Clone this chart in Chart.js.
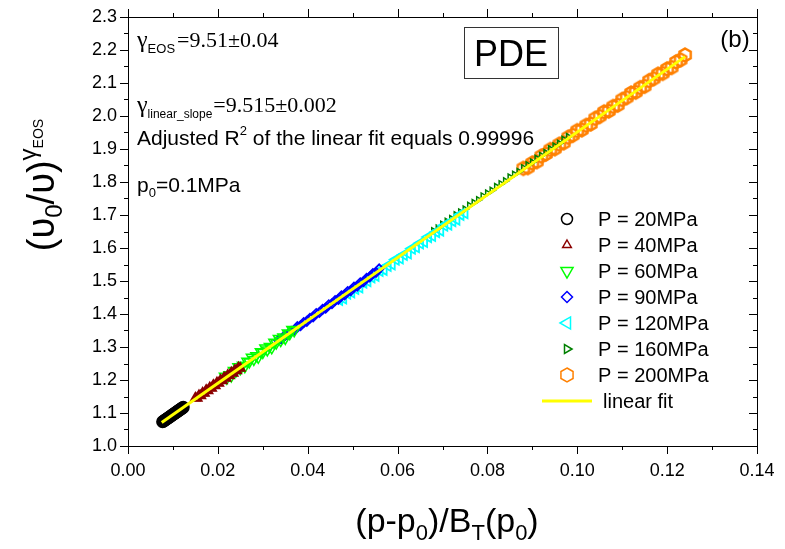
<!DOCTYPE html>
<html>
<head>
<meta charset="utf-8">
<script src="https://cdn.jsdelivr.net/npm/chart.js@4.4.0/dist/chart.umd.min.js"></script>
<style>
  html, body { margin: 0; padding: 0; background: #fff; }
  #wrap { width: 785px; height: 549px; }
</style>
</head>
<body>
<div id="wrap"><canvas id="fitChart"></canvas></div>
<script>
// Series labels
const seriesLabels = ['P = 20MPa', 'P = 40MPa', 'P = 60MPa', 'P = 90MPa', 'P = 120MPa', 'P = 160MPa', 'P = 200MPa'];

// (p-p0)/BT(p0) and (v0/v)^gamma for each pressure
const p20x = [0.0077, 0.0079, 0.0081, 0.0083, 0.0085, 0.0087, 0.0089, 0.0091, 0.0093, 0.0095, 0.0097, 0.0099,
    0.0101, 0.0103, 0.0105, 0.0107, 0.0109, 0.0111, 0.0113, 0.0115, 0.0117, 0.0119, 0.0121, 0.0123];
const p20y = [1.0735, 1.0750, 1.0773, 1.0788, 1.0811, 1.0826, 1.0849, 1.0864, 1.0887, 1.0902, 1.0925, 1.0940,
    1.0963, 1.0978, 1.1001, 1.1016, 1.1039, 1.1054, 1.1077, 1.1092, 1.1115, 1.1130, 1.1153, 1.1172];

const p40x = [0.0150, 0.0154, 0.0158, 0.0162, 0.0166, 0.0170, 0.0174, 0.0178, 0.0182, 0.0186, 0.0190, 0.0194, 0.0198,
    0.0202, 0.0206, 0.0210, 0.0214, 0.0218, 0.0222, 0.0226, 0.0230, 0.0234, 0.0238, 0.0242, 0.0246, 0.0250];
const p40y = [1.1457, 1.1445, 1.1533, 1.1521, 1.1609, 1.1598, 1.1686, 1.1674, 1.1762, 1.1750, 1.1838, 1.1826, 1.1914,
    1.1902, 1.1990, 1.1978, 1.2066, 1.2054, 1.2142, 1.2130, 1.2218, 1.2207, 1.2295, 1.2283, 1.2371, 1.2359];

const p60x = [0.0215, 0.0220, 0.0225, 0.0230, 0.0235, 0.0240, 0.0245, 0.0250, 0.0255, 0.0260, 0.0265, 0.0270, 0.0275, 0.0280, 0.0285, 0.0290,
    0.0295, 0.0300, 0.0305, 0.0310, 0.0315, 0.0320, 0.0325, 0.0330, 0.0335, 0.0340, 0.0345, 0.0350, 0.0355, 0.0360, 0.0365, 0.0370];
const p60y = [1.2116, 1.2053, 1.2161, 1.2118, 1.2286, 1.2264, 1.2401, 1.2339, 1.2446, 1.2404, 1.2571, 1.2549, 1.2687, 1.2624, 1.2732, 1.2689,
    1.2857, 1.2835, 1.2972, 1.2910, 1.3017, 1.2975, 1.3142, 1.3120, 1.3258, 1.3195, 1.3303, 1.3260, 1.3428, 1.3405, 1.3533, 1.3491];

const p90x = [0.0335, 0.0342, 0.0349, 0.0356, 0.0363, 0.0370, 0.0377, 0.0384, 0.0391, 0.0398, 0.0405, 0.0412, 0.0419, 0.0426, 0.0433, 0.0440, 0.0447,
    0.0454, 0.0461, 0.0468, 0.0475, 0.0482, 0.0489, 0.0496, 0.0503, 0.0510, 0.0517, 0.0524, 0.0531, 0.0538, 0.0545, 0.0552, 0.0559];
const p90y = [1.3208, 1.3244, 1.3351, 1.3387, 1.3474, 1.3501, 1.3617, 1.3644, 1.3740, 1.3777, 1.3874, 1.3910, 1.4017, 1.4043, 1.4140, 1.4177, 1.4283,
    1.4310, 1.4406, 1.4443, 1.4550, 1.4576, 1.4683, 1.4709, 1.4816, 1.4843, 1.4949, 1.4976, 1.5082, 1.5119, 1.5226, 1.5262, 1.5369];

const p120x = [0.0470, 0.0479, 0.0488, 0.0497, 0.0506, 0.0515, 0.0524, 0.0533, 0.0542, 0.0551, 0.0560, 0.0569, 0.0578, 0.0587, 0.0596, 0.0605,
    0.0614, 0.0623, 0.0632, 0.0641, 0.0650, 0.0659, 0.0668, 0.0677, 0.0686, 0.0695, 0.0704, 0.0713, 0.0722, 0.0731, 0.0740, 0.0749];
const p120y = [1.4432, 1.4478, 1.4623, 1.4659, 1.4765, 1.4810, 1.4956, 1.5001, 1.5117, 1.5163, 1.5308, 1.5344, 1.5460, 1.5505, 1.5651, 1.5687,
    1.5792, 1.5838, 1.5983, 1.6029, 1.6145, 1.6190, 1.6336, 1.6372, 1.6487, 1.6533, 1.6679, 1.6714, 1.6820, 1.6865, 1.7011, 1.7057];

const p160x = [0.0680, 0.0690, 0.0700, 0.0710, 0.0720, 0.0730, 0.0740, 0.0750, 0.0760, 0.0770, 0.0780, 0.0790, 0.0800, 0.0810, 0.0820, 0.0830,
    0.0840, 0.0850, 0.0860, 0.0870, 0.0880, 0.0890, 0.0900, 0.0910, 0.0920, 0.0930, 0.0940, 0.0950, 0.0960, 0.0970, 0.0980];
const p160y = [1.6520, 1.6605, 1.6721, 1.6806, 1.6891, 1.7006, 1.7091, 1.7176, 1.7291, 1.7377, 1.7462, 1.7577, 1.7662, 1.7747, 1.7862, 1.7947,
    1.8033, 1.8148, 1.8233, 1.8318, 1.8433, 1.8518, 1.8604, 1.8719, 1.8804, 1.8889, 1.9004, 1.9089, 1.9174, 1.9290, 1.9375];

const p200x = [0.0880, 0.0890, 0.0900, 0.0910, 0.0920, 0.0930, 0.0940, 0.0950, 0.0960, 0.0970, 0.0980, 0.0990, 0.1000, 0.1010, 0.1020, 0.1030, 0.1040, 0.1050, 0.1060,
    0.1070, 0.1080, 0.1090, 0.1100, 0.1110, 0.1120, 0.1130, 0.1140, 0.1150, 0.1160, 0.1170, 0.1180, 0.1190, 0.1200, 0.1210, 0.1220, 0.1230, 0.1240];
const p200y = [1.8413, 1.8438, 1.8574, 1.8619, 1.8784, 1.8849, 1.8984, 1.9009, 1.9144, 1.9190, 1.9355, 1.9420, 1.9555, 1.9580, 1.9715, 1.9760, 1.9926, 1.9991, 2.0126,
    2.0151, 2.0286, 2.0331, 2.0497, 2.0562, 2.0697, 2.0722, 2.0857, 2.0902, 2.1067, 2.1133, 2.1268, 2.1293, 2.1428, 2.1473, 2.1638, 2.1703, 2.1849];

// Linear fit end points (slope 9.515)
const fitX = [0.0075, 0.1240];
const fitY = [1.0714, 2.1799];

// Axis tick labels
const xMajorTicks = [0, 0.02, 0.04, 0.06, 0.08, 0.10, 0.12, 0.14];
const yMajorTicks = [1.0, 1.1, 1.2, 1.3, 1.4, 1.5, 1.6, 1.7, 1.8, 1.9, 2.0, 2.1, 2.2, 2.3];

const SANS = '"Liberation Sans", Arial, sans-serif';
const SERIF = '"Liberation Serif", "Times New Roman", serif';

function toPoints(xs, ys) {
    return xs.map((x, i) => ({ x: x, y: ys[i] }));
}

// Open hexagon marker (vertex up)
function drawHexPath(g, cx, cy, r) {
    g.beginPath();
    for (let k = 0; k < 6; k++) {
        const a = -Math.PI / 2 + k * Math.PI / 3;
        const px = cx + r * Math.cos(a), py = cy + r * Math.sin(a);
        if (k === 0) g.moveTo(px, py); else g.lineTo(px, py);
    }
    g.closePath();
}
function makeHexagon(r, color, lw) {
    const c = document.createElement('canvas');
    const size = Math.ceil(2 * r + 2 * lw + 2);
    c.width = size; c.height = size;
    const g = c.getContext('2d');
    drawHexPath(g, size / 2, size / 2, r);
    g.strokeStyle = color;
    g.lineWidth = lw;
    g.stroke();
    return c;
}

const hexMarker = makeHexagon(6.5, '#ff8000', 2.4);

// marker styling per series: [color, pointStyle, rotation, radius, borderWidth]
const markerStyles = [
    ['#000000', 'circle', 0, 5, 3],
    ['#8b0000', 'triangle', 0, 5, 2],
    ['#00ff00', 'triangle', 180, 6, 1.5],
    ['#0000ff', 'rectRot', 0, 4.5, 1.8],
    ['#00ffff', 'triangle', 270, 6, 1.8],
    ['#008000', 'triangle', 90, 3.5, 1.5],
    ['#ff8000', hexMarker, 0, 6.5, 2.4]
];

const seriesData = [
    toPoints(p20x, p20y), toPoints(p40x, p40y), toPoints(p60x, p60y), toPoints(p90x, p90y),
    toPoints(p120x, p120y), toPoints(p160x, p160y), toPoints(p200x, p200y)
];

// fit line first so it is painted on top of the markers
const datasets = [{
    type: 'line',
    label: 'linear fit',
    data: toPoints(fitX, fitY),
    borderColor: '#ffff00',
    borderWidth: 3,
    pointRadius: 0,
    showLine: true,
    fill: false
}];
seriesData.forEach((d, i) => {
    const s = markerStyles[i];
    datasets.push({
        type: 'scatter',
        label: seriesLabels[i],
        data: d,
        borderColor: s[0],
        backgroundColor: 'rgba(0,0,0,0)',
        pointStyle: s[1],
        rotation: s[2],
        pointRadius: s[3],
        pointBorderWidth: s[4],
        pointHoverRadius: s[3]
    });
});

// Draw rich text runs: [text, font, dy, extra advance]
function drawRuns(ctx, x, y, runs) {
    let cx = x;
    runs.forEach(r => {
        ctx.font = r[1];
        ctx.fillText(r[0], cx, y + (r[2] || 0));
        cx += ctx.measureText(r[0]).width + (r[3] || 0);
    });
    return cx - x;
}
function runsWidth(ctx, runs) {
    let w = 0;
    runs.forEach(r => { ctx.font = r[1]; w += ctx.measureText(r[0]).width + (r[3] || 0); });
    return w;
}

function drawLegendMarker(ctx, i, x, y) {
    const s = markerStyles[i];
    ctx.save();
    ctx.strokeStyle = s[0];
    ctx.lineWidth = 1.5;
    ctx.translate(x, y);
    ctx.rotate(s[2] * Math.PI / 180);
    ctx.beginPath();
    if (i === 0) {
        ctx.arc(0, 0, 5.5, 0, Math.PI * 2);
    } else if (i === 3) {
        ctx.moveTo(0, -5.5); ctx.lineTo(5.5, 0); ctx.lineTo(0, 5.5); ctx.lineTo(-5.5, 0); ctx.closePath();
    } else if (i === 6) {
        drawHexPath(ctx, 0, 0, 7);
    } else {
        const r = (i === 1 || i === 5) ? 5 : 7;
        ctx.moveTo(0, -r); ctx.lineTo(r * 0.866, r * 0.5); ctx.lineTo(-r * 0.866, r * 0.5); ctx.closePath();
    }
    ctx.stroke();
    ctx.restore();
}

const decorPlugin = {
    id: 'decor',
    afterDraw(chart) {
        const ctx = chart.ctx;
        const xs = chart.scales.x, ys = chart.scales.y;
        const area = chart.chartArea;
        ctx.save();

        // frame with major/minor ticks on all four sides
        ctx.strokeStyle = '#000';
        ctx.lineWidth = 1;
        ctx.beginPath();
        for (let k = 0; k <= 14; k++) {
            const px = Math.round(xs.getPixelForValue(k * 0.01)) + 0.5;
            const len = k % 2 === 0 ? 8 : 4;
            ctx.moveTo(px, area.bottom); ctx.lineTo(px, area.bottom + len);
            ctx.moveTo(px, area.top); ctx.lineTo(px, area.top - len);
        }
        for (let k = 0; k <= 26; k++) {
            const py = Math.round(ys.getPixelForValue(1 + k * 0.05)) + 0.5;
            const len = k % 2 === 0 ? 8 : 4;
            ctx.moveTo(area.left, py); ctx.lineTo(area.left - len, py);
            ctx.moveTo(area.right, py); ctx.lineTo(area.right - len, py);
        }
        ctx.stroke();
        ctx.strokeRect(Math.round(area.left) + 0.5, Math.round(area.top) + 0.5,
            Math.round(area.right - area.left), Math.round(area.bottom - area.top));

        ctx.fillStyle = '#000';
        ctx.textBaseline = 'alphabetic';
        ctx.textAlign = 'left';

        // fit parameters
        drawRuns(ctx, 137, 47, [
            ['\u03b3', '24px ' + SERIF, 0, 0],
            ['EOS', '13px ' + SANS, 6, 2],
            ['=9.51\u00b10.04', '22px ' + SERIF, 0]
        ]);
        drawRuns(ctx, 137, 112, [
            ['\u03b3', '24px ' + SERIF, 0, 0],
            ['linear_slope', '12px ' + SANS, 6, 1],
            ['=9.515\u00b10.002', '22px ' + SERIF, 0]
        ]);
        drawRuns(ctx, 137, 145, [
            ['Adjusted R', '21px ' + SANS, 0, 0],
            ['2', '13px ' + SANS, -10, 0],
            [' of the linear fit equals 0.99996', '21px ' + SANS, 0]
        ]);
        drawRuns(ctx, 137, 192, [
            ['p', '21px ' + SANS, 0, 0],
            ['0', '13px ' + SANS, 5, 0],
            ['=0.1MPa', '21px ' + SANS, 0]
        ]);

        // PDE box and panel tag
        ctx.lineWidth = 1;
        ctx.strokeStyle = '#333';
        ctx.strokeRect(464.5, 27.5, 94, 51);
        ctx.font = '36px ' + SANS;
        ctx.textAlign = 'center';
        ctx.fillText('PDE', 511, 66);
        ctx.font = '24px ' + SANS;
        ctx.fillText('(b)', 735, 47);
        ctx.textAlign = 'left';

        // legend
        for (let i = 0; i < seriesLabels.length; i++) {
            const ly = 219 + i * 26;
            drawLegendMarker(ctx, i, 567, ly);
            ctx.fillStyle = '#000';
            ctx.font = '20px ' + SANS;
            ctx.fillText(seriesLabels[i], 598, ly + 7);
        }
        const fy = 219 + 7 * 26;
        ctx.strokeStyle = '#ffff00';
        ctx.lineWidth = 3;
        ctx.beginPath(); ctx.moveTo(542, fy); ctx.lineTo(592, fy); ctx.stroke();
        ctx.fillText('linear fit', 603, fy + 7);

        // x axis title
        const xRuns = [
            ['(p-p', '34px ' + SANS, 0, 0],
            ['0', '22px ' + SANS, 8, 0],
            [')/B', '34px ' + SANS, 0, 0],
            ['T', '22px ' + SANS, 8, 0],
            ['(p', '34px ' + SANS, 0, 0],
            ['0', '22px ' + SANS, 8, 0],
            [')', '34px ' + SANS, 0, 0]
        ];
        const xw = runsWidth(ctx, xRuns);
        drawRuns(ctx, 447 - xw / 2, 532, xRuns);

        // y axis title (rotated)
        const yRuns = [
            ['(\u03c5', '38px ' + SANS, 0, 0],
            ['0', '24px ' + SANS, 8, 0],
            ['/\u03c5)', '38px ' + SANS, 0, 0],
            ['\u03b3', '24px ' + SANS, -18, 0],
            ['EOS', '14px ' + SANS, -11, 0]
        ];
        const yw = runsWidth(ctx, yRuns);
        ctx.translate(54, 185);
        ctx.rotate(-Math.PI / 2);
        drawRuns(ctx, -yw / 2, 0, yRuns);
        ctx.restore();
    }
};

const ctx = document.getElementById('fitChart').getContext('2d');
const fitChart = new Chart(ctx, {
    type: 'scatter',
    data: { datasets: datasets },
    options: {
        responsive: true,
        maintainAspectRatio: false,
        animation: false,
        layout: { padding: { top: 17, right: 28, left: 0, bottom: 0 } },
        plugins: {
            legend: { display: false },
            tooltip: { enabled: false }
        },
        scales: {
            x: {
                type: 'linear',
                min: 0,
                max: 0.14,
                afterFit: (s) => { s.height = 103; s.paddingLeft = 0; s.paddingRight = 0; },
                afterBuildTicks: (s) => { s.ticks = xMajorTicks.map(v => ({ value: v })); },
                grid: { display: false, drawTicks: false },
                border: { display: false },
                ticks: {
                    padding: 14,
                    color: '#000',
                    font: { family: SANS, size: 18 },
                    callback: (v) => v.toFixed(2)
                }
            },
            y: {
                type: 'linear',
                min: 1.0,
                max: 2.3,
                afterFit: (s) => { s.width = 128; s.paddingTop = 0; s.paddingBottom = 0; },
                afterBuildTicks: (s) => { s.ticks = yMajorTicks.map(v => ({ value: v })); },
                grid: { display: false, drawTicks: false },
                border: { display: false },
                ticks: {
                    padding: 11,
                    color: '#000',
                    font: { family: SANS, size: 18 },
                    callback: (v) => v.toFixed(1)
                }
            }
        }
    },
    plugins: [decorPlugin]
});
</script>
</body>
</html>
